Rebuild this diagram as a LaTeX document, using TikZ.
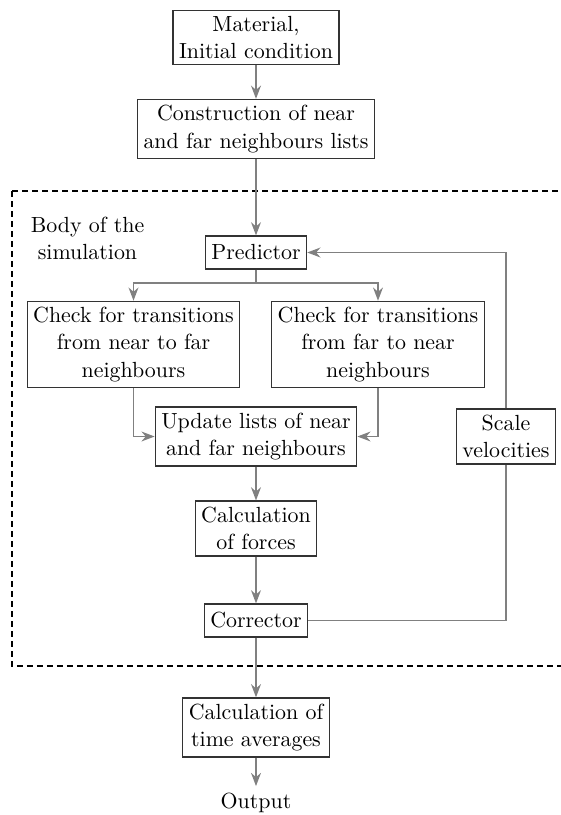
\documentclass[tikz,border=0pt]{standalone}
\usetikzlibrary{arrows.meta}
\usetikzlibrary{positioning}

\begin{document}
\begin{tikzpicture}[>=Stealth, x=0.5pt, y=-0.5pt,
    every node/.style={font=\fontsize{10.95}{13.6}\selectfont},
    box/.style={draw=black!80, line width=0.6pt, inner sep=3pt, minimum height=16.5pt, align=center},
    flow/.style={->, draw=black!50, line width=0.8pt},
    link/.style={draw=black!50, line width=0.8pt}]
  \useasboundingbox (0, 0) rectangle (561, 815);

  % 虚线框 (右边超出画面)
  \draw[dashed, line width=0.6pt, dash pattern=on 3pt off 2pt] (12, 191) rectangle (600, 666);
  \node[align=center] (body) at (87.5, 238) {Body of the\\simulation};

  % 流程节点
  \node[box] (material) at (256, 37.5) {Material,\\Initial condition};
  \node[box] (lists) at (256, 129) {Construction of near\\and far neighbours lists};
  \node[box] (predictor) at (256, 252.5) {Predictor};
  \node[box] (neartofar) at (133.5, 344.5) {Check for transitions\\from near to far\\neighbours};
  \node[box] (fartonear) at (378, 344.5) {Check for transitions\\from far to near\\neighbours};
  \node[box] (update) at (256, 436.5) {Update lists of near\\and far neighbours};
  \node[box] (scalevel) at (506, 436.5) {Scale\\velocities};
  \node[box] (forces) at (256, 528.5) {Calculation\\of forces};
  \node[box] (corrector) at (256, 620.5) {Corrector};
  \node[box] (averages) at (256, 727.5) {Calculation of\\time averages};
  \node (output) at (256, 803) {Output};
  \coordinate (split) at (256, 283);

  % 连线
  \draw[flow] (material) -- (lists);
  \draw[flow] (lists) -- (predictor);
  \draw[link] (predictor) -- (split);
  \draw[flow] (split) -| (neartofar);
  \draw[flow] (split) -| (fartonear);
  \draw[flow] (neartofar) |- (update);
  \draw[flow] (fartonear) |- (update);
  \draw[flow] (update) -- (forces);
  \draw[flow] (forces) -- (corrector);
  \draw[flow] (corrector) -- (averages);
  \draw[flow] (averages) -- (output);

  % 速度缩放回路
  \draw[link] (corrector) -| (scalevel);
  \draw[flow] (scalevel) |- (predictor);
\end{tikzpicture}
\end{document}
